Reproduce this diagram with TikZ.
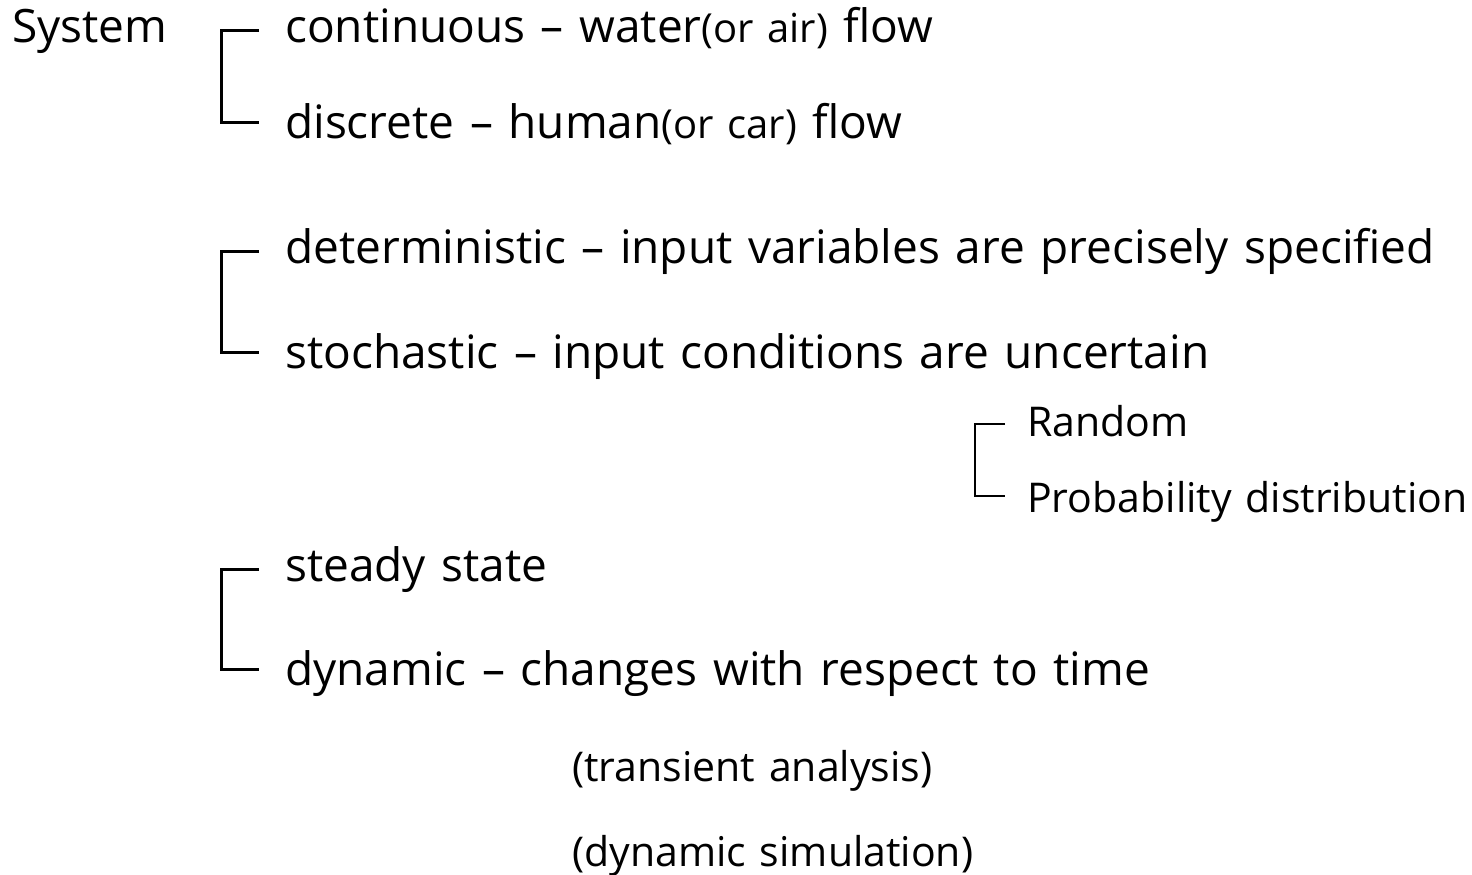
\documentclass[tikz,border=0pt]{standalone}
\usepackage{fontspec}
\setmainfont{Open Sans}[WordSpace=1.3]
\begin{document}
\begin{tikzpicture}[x=1pt,y=-1pt,
  lbl/.style={anchor=base west,inner sep=0pt,font=\fontsize{46}{52}\selectfont},
  sublbl/.style={anchor=base west,inner sep=0pt,font=\fontsize{41}{46}\selectfont},
  brk/.style={line width=3pt},
  brksmall/.style={line width=2.5pt}]
\useasboundingbox (0,0) rectangle (1472,875);
\newcommand{\aside}[1]{{\fontsize{40}{44}\selectfont #1}}

\node[lbl] (sys) at (12,43) {System};
\node[lbl] (cont) at (285,43) {continuous -- water\aside{(or air)} flow};
\node[lbl] (disc) at (285,138) {discrete -- human\aside{(or car)} flow};
\node[lbl] (det) at (285,263) {deterministic -- input variables are precisely specified};
\node[lbl] (sto) at (285,368) {stochastic -- input conditions are uncertain};
\node[sublbl] (rnd) at (1027,436) {Random};
\node[sublbl] (prob) at (1027,512) {Probability distribution};
\node[lbl] (ste) at (285,581) {steady state};
\node[lbl] (dyn) at (285,685) {dynamic -- changes with respect to time};
\node[sublbl] (tra) at (572,781) {(transient analysis)};
\node[sublbl] (sim) at (572,866) {(dynamic simulation)};

% brackets grouping each pair of alternatives
\draw[brk] ([xshift=-26pt,yshift=12pt]cont.base west) -| ([xshift=-64pt,yshift=16pt]disc.base west) -- ([xshift=-26pt,yshift=16pt]disc.base west);
\draw[brk] ([xshift=-26pt,yshift=12pt]det.base west) -| ([xshift=-64pt,yshift=16pt]sto.base west) -- ([xshift=-26pt,yshift=16pt]sto.base west);
\draw[brksmall] ([xshift=-22pt,yshift=12pt]rnd.base west) -| ([xshift=-52pt,yshift=16pt]prob.base west) -- ([xshift=-22pt,yshift=16pt]prob.base west);
\draw[brk] ([xshift=-26pt,yshift=12pt]ste.base west) -| ([xshift=-64pt,yshift=16pt]dyn.base west) -- ([xshift=-26pt,yshift=16pt]dyn.base west);
\end{tikzpicture}
\end{document}
